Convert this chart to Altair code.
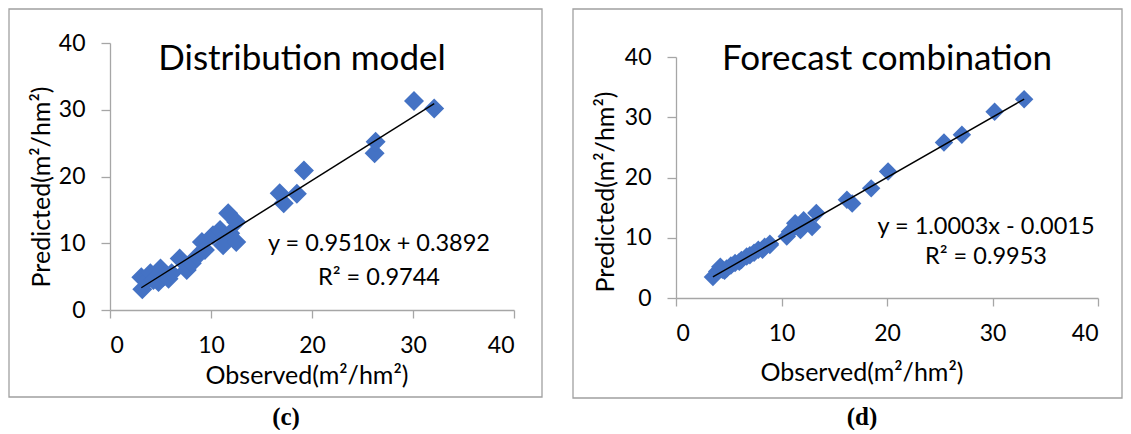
import altair as alt
import pandas as pd

# ---- data ----
obs_c = [3.1, 3.2, 3.6, 4.0, 4.3, 4.8, 5.0, 5.3, 5.8, 6.1, 6.9, 7.6, 8.1, 8.6,
         9.1, 9.4, 10.2, 10.9, 11.2, 11.7, 11.9, 12.5, 12.5, 16.8, 17.2, 18.5,
         19.2, 26.2, 26.3, 30.1, 32.1]
pred_c = [4.9, 3.1, 4.3, 5.5, 4.5, 4.2, 6.2, 5.0, 4.7, 5.5, 7.7, 6.0, 7.0, 8.0,
          10.2, 9.0, 11.2, 12.0, 9.7, 14.5, 11.5, 13.2, 10.2, 17.5, 16.0, 17.4,
          20.9, 23.5, 25.2, 31.3, 30.2]

obs_d = [3.5, 3.9, 4.2, 4.4, 4.6, 4.8, 5.2, 5.6, 6.0, 6.2, 6.7, 7.0, 7.4, 7.8,
         8.2, 8.4, 8.9, 8.9, 10.5, 10.8, 11.3, 11.8, 12.1, 12.9, 13.3, 16.2,
         16.7, 18.5, 20.1, 25.4, 27.1, 30.2, 33.0]
pred_d = [3.5, 4.4, 5.2, 4.7, 4.5, 4.9, 5.4, 5.8, 6.0, 6.3, 6.9, 7.1, 7.5, 8.0,
          8.0, 8.5, 8.8, 9.0, 10.2, 11.0, 12.4, 11.3, 12.9, 11.8, 14.1, 16.3,
          15.7, 18.2, 21.0, 25.8, 27.1, 30.9, 33.0]

titles = ["Distribution model", "Forecast combination"]
slopes = [0.9510, 1.0003]
intercepts = [0.3892, -0.0015]
eq_labels = ["y = 0.9510x + 0.3892", "y = 1.0003x - 0.0015"]
r2_labels = ["R\u00b2 = 0.9744", "R\u00b2 = 0.9953"]
panel_tags = ["(c)", "(d)"]
x_title = "Observed(m\u00b2/hm\u00b2)"
y_title = "Predicted(m\u00b2/hm\u00b2)"
ticks = [0, 10, 20, 30, 40]

BLUE = "#4472C4"
GREY = "#A6A6A6"
FONT = "Lato"
H = 414

layouts = [
    dict(W=557, border=(1, 534, 1, 389), xr=[102, 506], yr=[302, 35],
         title=(294, 51), eq=(371, 236), r2=(371, 270), tag=(278, 409),
         ytitle=(34, 179), xtitle=(299, 368), size=400),
    dict(W=558, border=(8, 557, 1, 390), xr=[111, 533], yr=[290, 49],
         title=(322, 51), eq=(421, 219), r2=(421, 249), tag=(297, 409),
         ytitle=(41, 184), xtitle=(297, 365), size=340),
]

one = pd.DataFrame({"k": [0]})


def txt(pos, s, size, **kw):
    return alt.Chart(one).mark_text(fontSize=size, font=kw.pop("font", FONT),
                                    color="#000000", **kw).encode(
        x=alt.value(pos[0]), y=alt.value(pos[1]), text=alt.value(s))


def panel(i, obs, pred):
    L = layouts[i]
    df = pd.DataFrame({"obs": obs, "pred": pred})
    lo, hi = min(obs), max(obs)
    line_df = pd.DataFrame({"obs": [lo, hi],
                            "pred": [slopes[i] * lo + intercepts[i],
                                     slopes[i] * hi + intercepts[i]]})
    xsc = alt.Scale(domain=[0, 40], range=L["xr"], nice=False, zero=False)
    ysc = alt.Scale(domain=[0, 40], range=L["yr"], nice=False, zero=False)
    xax = alt.Axis(values=ticks, title=None, grid=False, offset=L["yr"][0] - H,
                   tickSize=8, labelPadding=16, labelFontSize=23)
    yax = alt.Axis(values=ticks, title=None, grid=False, offset=-L["xr"][0],
                   tickSize=9, labelPadding=16, labelFontSize=23)

    b = L["border"]
    border = alt.Chart(one).mark_rect(fillOpacity=0, stroke="#A0A0A0",
                                      strokeWidth=1.3).encode(
        x=alt.value(b[0]), x2=alt.value(b[1]), y=alt.value(b[2]), y2=alt.value(b[3]))

    pts = alt.Chart(df).mark_point(shape="diamond", filled=True, opacity=1,
                                   size=L["size"], color=BLUE).encode(
        x=alt.X("obs:Q", scale=xsc, axis=xax),
        y=alt.Y("pred:Q", scale=ysc, axis=yax))
    fit = alt.Chart(line_df).mark_line(color="#000000", strokeWidth=1.4).encode(
        x=alt.X("obs:Q", scale=xsc), y=alt.Y("pred:Q", scale=ysc))

    layers = [
        border, pts, fit,
        txt(L["title"], titles[i], 35),
        txt(L["eq"], eq_labels[i], 23.5),
        txt(L["r2"], r2_labels[i], 23.5),
        txt(L["xtitle"], x_title, 25),
        txt(L["ytitle"], y_title, 25, angle=270),
        txt(L["tag"], panel_tags[i], 25, font="Liberation Serif", fontWeight="bold"),
    ]
    return alt.layer(*layers).properties(width=L["W"], height=H)


chart = alt.hconcat(panel(0, obs_c, pred_c), panel(1, obs_d, pred_d),
                    spacing=0, bounds="flush").properties(
    padding=0, background="white"
).configure_view(stroke=None).configure_axis(
    domainColor=GREY, tickColor=GREY, domainWidth=1.3, tickWidth=1.3,
    labelFont=FONT, labelColor="#000000"
).configure_text(baseline="middle", align="center")

chart.save("out.html", embed_options={"renderer": "svg", "actions": False})
